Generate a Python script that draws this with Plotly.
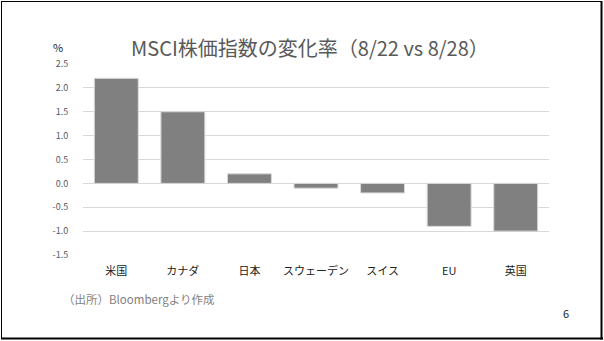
import plotly.graph_objects as go

categories = ["米国", "カナダ", "日本", "スウェーデン", "スイス", "EU", "英国"]
values = [2.2, 1.5, 0.2, -0.1, -0.2, -0.9, -1.0]
tick_vals = [-1.5, -1.0, -0.5, 0.0, 0.5, 1.0, 1.5, 2.0, 2.5]
tick_text = ["-1.5", "-1.0", "-0.5", "0.0", "0.5", "1.0", "1.5", "2.0", "2.5"]

W, H = 604, 341
L, R, T, B = 83, 55, 64, 86

FONT = "Noto Sans CJK JP"

fig = go.Figure(go.Bar(
    x=categories, y=values,
    marker=dict(color="#808080", line=dict(color="#d9d9d9", width=1)),
))

def px(x):
    return (x - L) / (W - L - R)

def py(y):
    return (H - B - y) / (H - T - B)

fig.update_layout(
    width=W, height=H,
    margin=dict(l=L, r=R, t=T, b=B),
    paper_bgcolor="white", plot_bgcolor="white",
    showlegend=False,
    bargap=0.34,
    font=dict(family=FONT, color="#595959"),
    xaxis=dict(showgrid=False, showline=False, zeroline=False,
               tickfont=dict(size=11, color="#222222", family=FONT),
               ticks="outside", ticklen=6, tickcolor="rgba(0,0,0,0)"),
    yaxis=dict(range=[-1.5, 2.5], tickvals=tick_vals, ticktext=tick_text,
               showgrid=True, gridcolor="#d9d9d9", gridwidth=1,
               zeroline=True, zerolinecolor="#d9d9d9", zerolinewidth=1,
               showline=False, tickfont=dict(size=9, color="#595959", family=FONT),
               ticks="outside", ticklen=12, tickcolor="rgba(0,0,0,0)"),
    annotations=[
        dict(text="MSCI株価指数の変化率（8/22 vs 8/28）", xref="paper", yref="paper",
             x=px(310), y=py(48), showarrow=False, xanchor="center", yanchor="middle",
             font=dict(size=20, color="#595959", family=FONT)),
        dict(text="%", xref="paper", yref="paper", x=px(58), y=py(47),
             showarrow=False, xanchor="center", yanchor="middle",
             font=dict(size=11, color="#222222", family=FONT)),
        dict(text="（出所）Bloombergより作成", xref="paper", yref="paper",
             x=px(61), y=py(299), showarrow=False, xanchor="left", yanchor="middle",
             font=dict(size=11.5, color="#7f7f7f", family=FONT)),
        dict(text="6", xref="paper", yref="paper", x=px(566), y=py(313),
             showarrow=False, xanchor="center", yanchor="middle",
             font=dict(size=11, color="#222222", family=FONT)),
    ],
    shapes=[
        dict(type="line", xref="paper", yref="paper", x0=px(1), x1=px(602), y0=py(1.5), y1=py(1.5),
             line=dict(color="black", width=1)),
        dict(type="line", xref="paper", yref="paper", x0=px(1.5), x1=px(1.5), y0=py(1), y1=py(339),
             line=dict(color="black", width=1)),
        dict(type="line", xref="paper", yref="paper", x0=px(1), x1=px(603), y0=py(338.5), y1=py(338.5),
             line=dict(color="black", width=2)),
        dict(type="line", xref="paper", yref="paper", x0=px(601.5), x1=px(601.5), y0=py(1), y1=py(339.5),
             line=dict(color="black", width=2)),
    ],
)

fig.write_html("out.html")
